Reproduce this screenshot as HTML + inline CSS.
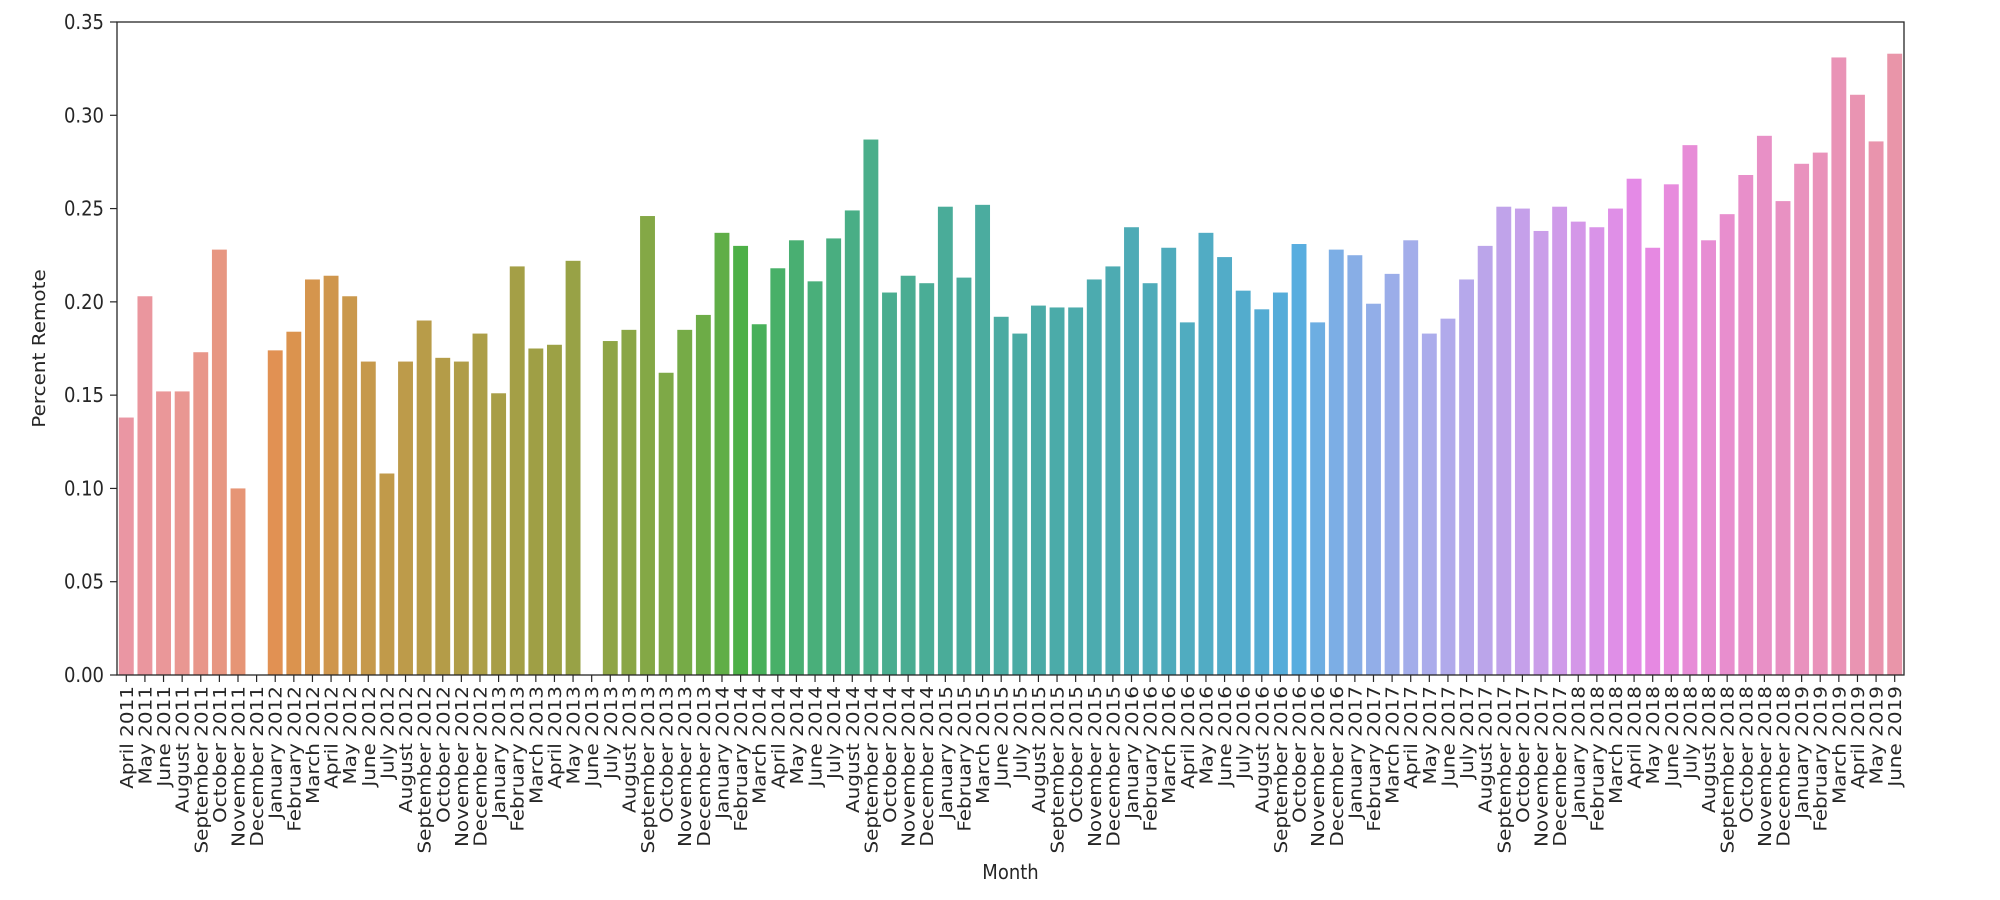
<!DOCTYPE html>
<html><head><meta charset="utf-8"><style>
html,body{margin:0;padding:0;background:#fff;}
svg{display:block;}
text{font-family:"DejaVu Sans","Liberation Sans",sans-serif;fill:#262626;}
</style></head><body>
<svg id="c" width="2000" height="900" xmlns="http://www.w3.org/2000/svg"></svg>
<script>
const labels=["April 2011","May 2011","June 2011","August 2011","September 2011","October 2011","November 2011","December 2011"];
const mn=["January","February","March","April","May","June","July","August","September","October","November","December"];
for(let y=2012;y<=2019;y++){for(let m=0;m<12;m++){if(y==2015&&(m==3||m==4))continue;if(y==2019&&m>5)break;labels.push(mn[m]+" "+y);}}
const vals=[.138,.203,.152,.152,.173,.228,.100,0,
.174,.184,.212,.214,.203,.168,.108,.168,.190,.170,.168,.183,
.151,.219,.175,.177,.222,0,.179,.185,.246,.162,.185,.193,
.237,.230,.188,.218,.233,.211,.234,.249,.287,.205,.214,.210,
.251,.213,.252,.192,.183,.198,.197,.197,.212,.219,
.240,.210,.229,.189,.237,.224,.206,.196,.205,.231,.189,.228,
.225,.199,.215,.233,.183,.191,.212,.230,.251,.250,.238,.251,
.243,.240,.250,.266,.229,.263,.284,.233,.247,.268,.289,.254,
.274,.280,.331,.311,.286,.333];
const M=[[3.2406,-1.5372,-0.4986],[-0.9689,1.8758,0.0415],[0.0557,-0.2040,1.0570]];
const refU=0.19784,refV=0.46834,kappa=903.2963,eps=0.0088565;
function maxC(L,H){const hr=H/360*2*Math.PI,sh=Math.sin(hr),ch=Math.cos(hr);let s1=Math.pow(L+16,3)/1560896;let s2=s1>eps?s1:L/kappa;let r=Infinity;
for(const [m1,m2,m3] of M){const top=(0.99915*m1+1.05122*m2+1.14460*m3)*s2;const rb=0.86330*m3-0.17266*m2;const lb=0.12949*m3-0.38848*m1;const bot=(rb*sh+lb*ch)*s2;
for(const t of [0,1]){const C=L*(top-1.05122*t)/(bot+0.17266*sh*t);if(C>0&&C<r)r=C;}}return r;}
function husl(H,S,L){const C=maxC(L,H)/100*S;const hr=H/180*Math.PI;const U=C*Math.cos(hr),V=C*Math.sin(hr);
const t=(L+16)/116;const Y=Math.pow(t,3)>eps?Math.pow(t,3):(116*t-16)/kappa;const vu=U/(13*L)+refU,vv=V/(13*L)+refV;
const X=-(9*Y*vu)/((vu-4)*vv-vu*vv);const Z=(9*Y-15*vv*Y-vv*X)/(3*vv);
return M.map(r=>{let c=r[0]*X+r[1]*Y+r[2]*Z;c=c<=0.0031308?12.92*c:1.055*Math.pow(c,1/2.4)-0.055;return Math.min(1,Math.max(0,c));});}
function rgb2hls(r,g,b){const mx=Math.max(r,g,b),mi=Math.min(r,g,b);const l=(mx+mi)/2;if(mx==mi)return[0,l,0];const d=mx-mi;const s=l<=0.5?d/(mx+mi):d/(2-mx-mi);
const rc=(mx-r)/d,gc=(mx-g)/d,bc=(mx-b)/d;let h;if(r==mx)h=bc-gc;else if(g==mx)h=2+rc-bc;else h=4+gc-rc;h=((h/6)%1+1)%1;return[h,l,s];}
function v(m1,m2,h){h=((h%1)+1)%1;if(h<1/6)return m1+(m2-m1)*h*6;if(h<0.5)return m2;if(h<2/3)return m1+(m2-m1)*(2/3-h)*6;return m1;}
function hls2rgb(h,l,s){if(s==0)return[l,l,l];const m2=l<=0.5?l*(1+s):l+s-l*s;const m1=2*l-m2;return[v(m1,m2,h+1/3),v(m1,m2,h),v(m1,m2,h-1/3)];}
const n=labels.length;
function color(i){let h=(i/n+0.01)%1*359;let c=husl(h,0.9*99,0.7*99);let [hh,l,s]=rgb2hls(...c);c=hls2rgb(hh,l,s*0.75);
return "rgb("+c.map(x=>Math.round(Math.min(1,Math.max(0,x))*255)).join(",")+")";}
const x0=117,x1=1904,y0=22,yb=675,per=(yb-y0)/0.35;const bw=(x1-x0)/n;const SY=1.11;
let s="";
for(let i=0;i<n;i++){const h=vals[i]*per;const cx=x0+bw*(i+0.5);
if(h>0)s+=`<rect x="${cx-bw*0.4}" y="${yb-h}" width="${bw*0.8}" height="${h}" fill="${color(i)}"/>`;
s+=`<line x1="${cx}" y1="${yb}" x2="${cx}" y2="${yb+7}" stroke="#262626" stroke-width="1.2"/>`;
s+=`<text transform="translate(${cx+6.5},${yb+11}) scale(1,${SY}) rotate(-90)" text-anchor="end" font-size="18">${labels[i]}</text>`;}
for(let k=0;k<=7;k++){const y=yb-k*0.05*per;s+=`<line x1="${x0-7}" y1="${y}" x2="${x0}" y2="${y}" stroke="#262626" stroke-width="1.2"/>`;
s+=`<text transform="translate(${x0-13},${y+7}) scale(1,${SY})" text-anchor="end" font-size="18">${(k*0.05).toFixed(2)}</text>`;}
s+=`<rect x="${x0}" y="${y0}" width="${x1-x0}" height="${yb-y0}" fill="none" stroke="#262626" stroke-width="1.3"/>`;
s+=`<text transform="translate(${(x0+x1)/2},879) scale(1,${SY})" text-anchor="middle" font-size="18">Month</text>`;
s+=`<text transform="translate(45,${(y0+yb)/2}) scale(1,${SY}) rotate(-90)" text-anchor="middle" font-size="18">Percent Remote</text>`;
document.getElementById("c").innerHTML=s;
</script>
</body></html>
